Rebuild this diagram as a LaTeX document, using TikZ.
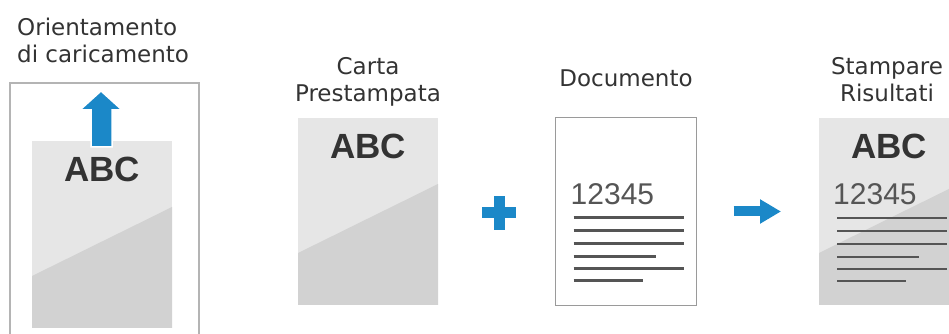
\documentclass[tikz,border=0pt]{standalone}
\usepackage{fontspec}
\setmainfont{DejaVu Sans}
\newfontfamily\sheetfont{Liberation Sans}
\usetikzlibrary{arrows.meta,positioning,calc}
\definecolor{ink}{HTML}{333333}
\definecolor{rule}{HTML}{555555}
\definecolor{paperlight}{HTML}{E6E6E6}
\definecolor{paperdark}{HTML}{D2D2D2}
\definecolor{framegray}{HTML}{B4B4B4}
\definecolor{docedge}{HTML}{9A9A9A}
\definecolor{accent}{HTML}{1B88C8}

\begin{document}
\begin{tikzpicture}[
  x=1pt, y=1pt,
  caption/.style={font=\fontsize{23}{27}\selectfont, text=ink, align=center, inner sep=0pt},
  sheet/.style={fill=paperlight, minimum width=140pt, minimum height=187pt,
    inner sep=0pt, outer sep=0pt},
  docsheet/.style={sheet, fill=white, draw=docedge, line width=1.5pt,
    minimum width=141pt, minimum height=188pt},
  tray/.style={draw=framegray, line width=2pt, minimum width=189pt,
    minimum height=270pt, inner sep=0pt, anchor=north west},
  abc/.style={font=\sheetfont\bfseries\fontsize{35}{35}\selectfont, text=ink, inner sep=0pt},
  digits/.style={font=\sheetfont\fontsize{30}{30}\selectfont, text=rule, inner sep=0pt,
    anchor=base west},
  textline/.style={draw=rule, line width=2.6pt},
  flow/.style={draw=accent, line width=10pt, -{Triangle[width=23pt,length=21pt]}},
  plusbar/.style={draw=accent, line width=11pt}
]
\useasboundingbox (0,0) rectangle (949,334);
\clip (0,0) rectangle (949,334);

% loading orientation
\node[tray] (tray) at (9,252) {};
\node[sheet] (load) at (102,99.5) {};
\node[caption, align=left, anchor=base west] (orient) at (17,271)
  {Orientamento\\di caricamento};

\node[sheet] (carta) at (368,122.5) {};
\node[docsheet] (doc) at (626,122.5) {};
\node[sheet] (result) at (889,122.5) {};

\foreach \s in {load,carta,result}{
  \fill[paperdark] (\s.south west) -- ++(0,52) -- ([yshift=121pt]\s.south east)
    -- (\s.south east) -- cycle;
}

\node[abc] (abcload) at ([yshift=-28pt]load.north) {ABC};
\node[abc] (abccarta) at ([yshift=-28pt]carta.north) {ABC};
\node[abc] (abcresult) at ([yshift=-28pt]result.north) {ABC};

\fill[accent, draw=white, line width=1.5pt] (91,187) -- (91,224) -- (80,224)
  -- (101,243) -- (122,224) -- (112,224) -- (112,187) -- cycle;

\node[digits] (numdoc) at ([xshift=15pt,yshift=-87pt]doc.north west) {12345};
\node[digits] (numresult) at ([xshift=14pt,yshift=-87pt]result.north west) {12345};
\foreach \s in {doc,result}{
  \foreach \dy/\len in {100/110,113/110,126/110,139/82,151/110,163/69}{
    \draw[textline] ([xshift=18pt,yshift=-\dy pt]\s.north west) -- ++(\len,0);
  }
}

\node[caption, anchor=base] (cartalabel) at (368,232) {Carta\\Prestampata};
\node[caption, anchor=base] (doclabel) at (626,247) {Documento};
\node[caption, anchor=base] (resultlabel) at (887,232) {Stampare\\Risultati};

\coordinate (plus) at (499,121);
\draw[plusbar] ([xshift=-17pt]plus) -- ([xshift=17pt]plus);
\draw[plusbar] ([yshift=-17pt]plus) -- ([yshift=17pt]plus);

\draw[flow] ([xshift=37pt]doc.east) -- ([xshift=-38pt]result.west);
\end{tikzpicture}
\end{document}
